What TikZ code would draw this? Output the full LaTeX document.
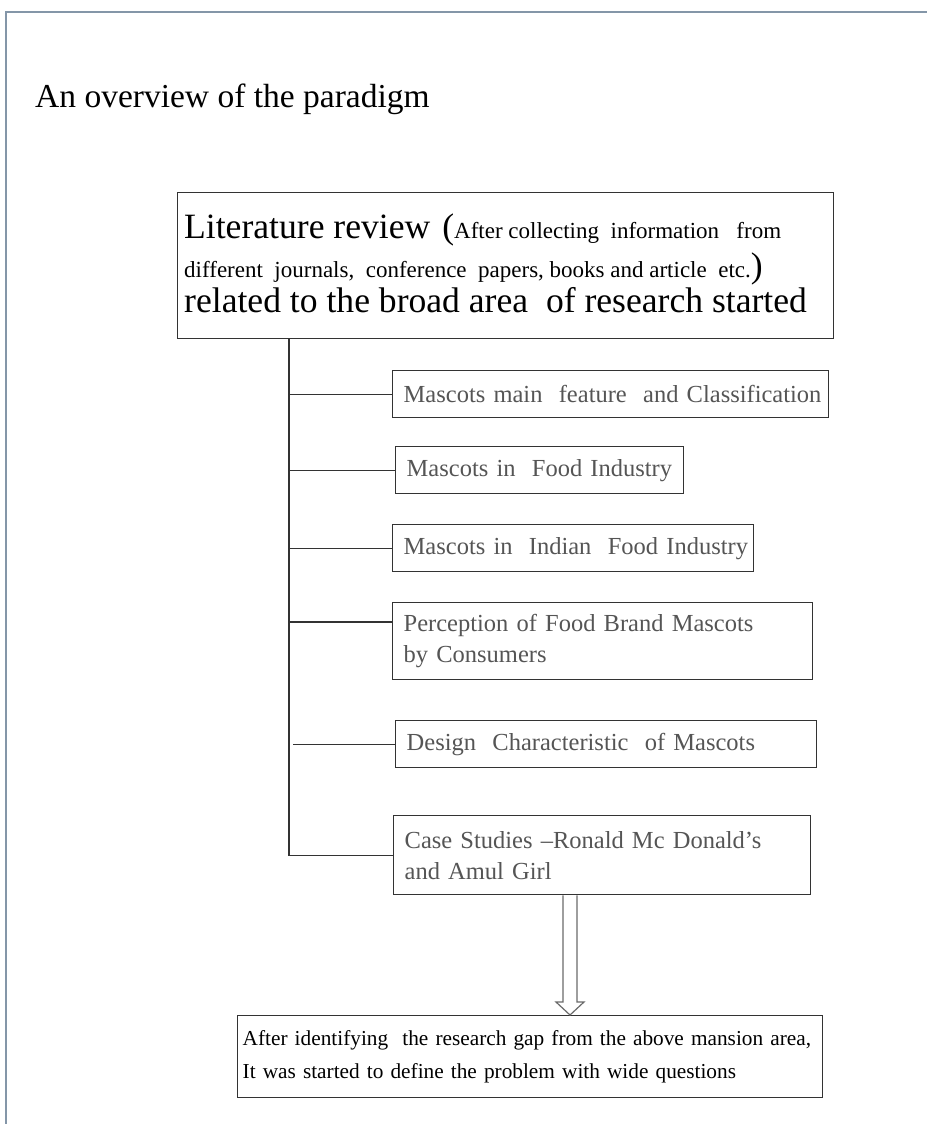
\documentclass[tikz,border=0pt]{standalone}
\usepackage{fontspec}
\setmainfont{Liberation Serif}
\usetikzlibrary{calc}
\definecolor{frameblue}{HTML}{8496A8}
\definecolor{boxtext}{HTML}{555555}
\definecolor{linegray}{HTML}{333333}
\definecolor{arrowgray}{HTML}{6A6A6A}
\newcommand{\bigtext}{\fontsize{35.6}{40}\selectfont}
\newcommand{\smalltext}{\fontsize{23}{26}\selectfont}

\begin{document}
\begin{tikzpicture}[x=1pt,y=-1pt,
  boxline/.style={draw=linegray, line width=1.4pt},
  topic/.style={boxline, anchor=north west, inner xsep=11pt, inner ysep=0pt,
    align=left, text=boxtext, font=\fontsize{24.5}{31}\selectfont},
  link/.style={draw=linegray, line width=1.4pt},
  hollow/.style={draw=arrowgray, line width=1.2pt, fill=white, line join=miter}]

\useasboundingbox[fill=white] (0,0) rectangle (927,1124);
% page frame
\draw[frameblue, line width=1.6pt] (6,1124) -- (6,12) -- (927,12);

\node[anchor=base west, inner sep=0pt, font=\fontsize{33.5}{40}\selectfont] (title) at (35,107) {An overview of the paradigm};

% literature review box
\node[boxline, anchor=north west, minimum width=656pt, minimum height=146pt, inner sep=0pt] (main) at (177,192) {};
\node[anchor=base west, inner sep=0pt] (l1) at (184,238)
  {{\bigtext Literature review\hspace{12pt}(}{\smalltext After\ collecting\ \ information\ \ \ from}};
\node[anchor=base west, inner sep=0pt] (l2) at (184,277)
  {{\smalltext different\ \ journals,\ \ conference\ \ papers, books and article\ \ etc.}{\bigtext )}};
\node[anchor=base west, inner sep=0pt, font=\bigtext] (l3) at (184,312)
  {related to the broad area\ \ of research started};

% topic boxes (each line kept unbroken)
\node[topic, text width=414pt, minimum height=47pt] (b1) at (392,370) {\mbox{Mascots main\ \ feature\ \ and Classification}};
\node[topic, text width=266pt, minimum height=47pt] (b2) at (395,446) {\mbox{Mascots in\ \ Food Industry}};
\node[topic, text width=339pt, minimum height=47pt] (b3) at (392,524) {\mbox{Mascots in\ \ Indian\ \ Food Industry}};
\node[topic, text width=398pt, minimum height=77pt] (b4) at (392,602) {\mbox{Perception of Food Brand Mascots}\\\mbox{by Consumers}};
\node[topic, text width=399pt, minimum height=47pt] (b5) at (395,720) {\mbox{Design\ \ Characteristic\ \ of Mascots}};
\node[topic, text width=395pt, minimum height=79pt] (b6) at (393,815) {\mbox{Case Studies --Ronald Mc Donald's}\\\mbox{and Amul Girl}};

% conclusion box
\node[boxline, anchor=north west, inner xsep=5pt, inner ysep=0pt, text width=575pt, minimum height=82pt,
  align=left, font=\fontsize{21.3}{33}\selectfont] (gap) at (237,1015)
  {\mbox{After identifying\ \ the research gap from the above mansion area,}\\\mbox{It was started to define\ the problem with\ wide questions}};

% spine and branches
\coordinate (sp) at (289,0);
\draw[link] (main.south -| sp) -- (b6.west -| sp) -- (b6.west);
\draw[link] (b1.west -| sp) -- (b1.west);
\draw[link] (b2.west -| sp) -- (b2.west);
\draw[link] (b3.west -| sp) -- (b3.west);
\coordinate (b4c) at ($(b4.north west)+(0,20)$);
\draw[link] (b4c -| sp) -- (b4c);
\coordinate (b5s) at ($(b5.west -| sp)+(4,0)$);
\draw[link] (b5s) -- (b5.west);

% hollow arrow down to the conclusion
\coordinate (ax) at (570,0);
\coordinate (at) at (b6.south -| ax);
\coordinate (ab) at (gap.north -| ax);
\draw[hollow] ($(at)+(-7,0)$) -- ($(ab)+(-7,-13)$) -- ($(ab)+(-14,-13)$) -- (ab)
  -- ($(ab)+(14,-13)$) -- ($(ab)+(7,-13)$) -- ($(at)+(7,0)$);
\end{tikzpicture}
\end{document}
